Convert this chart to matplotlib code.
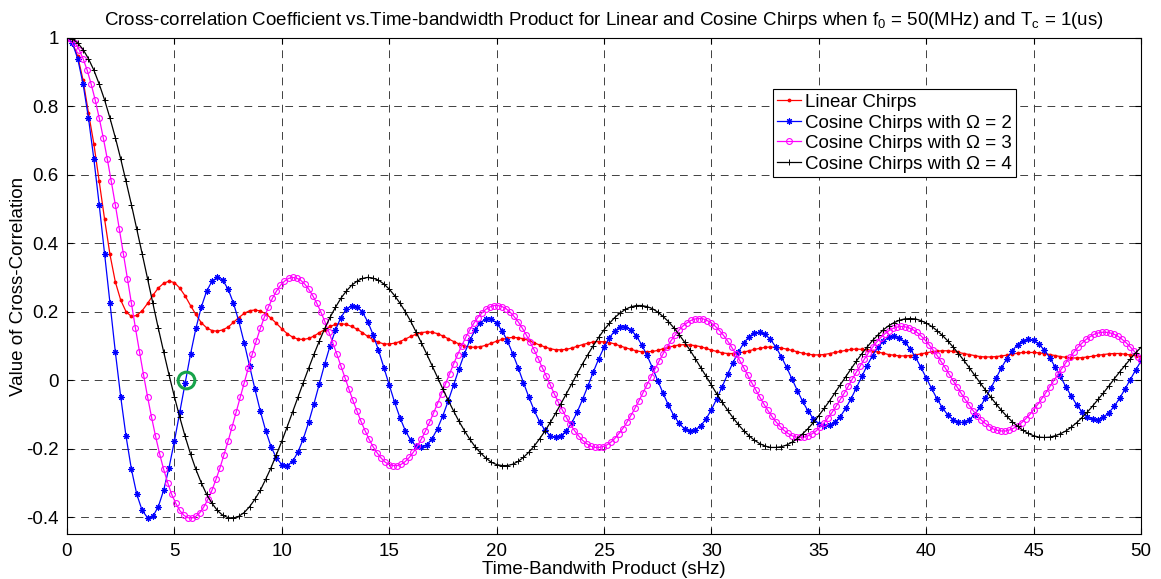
import numpy as np
import matplotlib
matplotlib.use("Agg")
import matplotlib.pyplot as plt

plt.rcParams['font.family'] = ['Liberation Sans', 'DejaVu Sans']
plt.rcParams['mathtext.default'] = 'regular'

# time-bandwidth product grids (sHz)
tb = np.linspace(0, 50, 201)
tb_omega3 = np.r_[np.arange(0, 49.9, 0.1875), 50.0]

linear_chirp = [
    1.000, 0.986, 0.945, 0.875, 0.780, 0.690, 0.580, 0.470,
    0.367, 0.287, 0.234, 0.200, 0.186, 0.189, 0.203, 0.224,
    0.248, 0.269, 0.283, 0.289, 0.285, 0.269, 0.246, 0.218,
    0.192, 0.168, 0.153, 0.145, 0.143, 0.147, 0.155, 0.169,
    0.183, 0.195, 0.203, 0.205, 0.202, 0.194, 0.181, 0.166,
    0.150, 0.136, 0.126, 0.120, 0.119, 0.122, 0.129, 0.139,
    0.148, 0.157, 0.163, 0.165, 0.163, 0.157, 0.149, 0.139,
    0.128, 0.118, 0.111, 0.106, 0.106, 0.108, 0.113, 0.120,
    0.128, 0.134, 0.139, 0.141, 0.140, 0.136, 0.129, 0.121,
    0.113, 0.106, 0.100, 0.097, 0.096, 0.098, 0.102, 0.108,
    0.114, 0.119, 0.123, 0.125, 0.124, 0.121, 0.116, 0.109,
    0.103, 0.097, 0.092, 0.089, 0.089, 0.090, 0.094, 0.099,
    0.104, 0.108, 0.112, 0.113, 0.112, 0.110, 0.106, 0.100,
    0.095, 0.090, 0.086, 0.083, 0.083, 0.084, 0.087, 0.092,
    0.096, 0.100, 0.103, 0.104, 0.103, 0.101, 0.098, 0.093,
    0.088, 0.084, 0.080, 0.078, 0.078, 0.080, 0.082, 0.086,
    0.090, 0.093, 0.096, 0.097, 0.096, 0.094, 0.091, 0.087,
    0.083, 0.079, 0.076, 0.074, 0.074, 0.075, 0.078, 0.081,
    0.084, 0.087, 0.090, 0.091, 0.090, 0.089, 0.086, 0.082,
    0.079, 0.075, 0.073, 0.071, 0.071, 0.072, 0.074, 0.077,
    0.080, 0.083, 0.085, 0.086, 0.086, 0.084, 0.081, 0.078,
    0.075, 0.072, 0.069, 0.068, 0.068, 0.069, 0.071, 0.073,
    0.076, 0.079, 0.081, 0.081, 0.081, 0.080, 0.078, 0.075,
    0.072, 0.069, 0.067, 0.065, 0.065, 0.066, 0.068, 0.070,
    0.073, 0.075, 0.077, 0.078, 0.078, 0.076, 0.074, 0.072,
    0.069,
]

cosine_omega2 = [
    1.000, 0.984, 0.938, 0.864, 0.765, 0.646, 0.512, 0.369,
    0.224, 0.083, -0.048, -0.164, -0.260, -0.333, -0.380, -0.401,
    -0.397, -0.369, -0.321, -0.255, -0.178, -0.093, -0.007, 0.076,
    0.151, 0.213, 0.260, 0.289, 0.300, 0.292, 0.266, 0.225,
    0.172, 0.109, 0.042, -0.026, -0.090, -0.147, -0.194, -0.227,
    -0.246, -0.249, -0.237, -0.210, -0.171, -0.123, -0.068, -0.010,
    0.048, 0.101, 0.147, 0.183, 0.207, 0.218, 0.215, 0.199,
    0.171, 0.133, 0.088, 0.037, -0.014, -0.064, -0.109, -0.147,
    -0.175, -0.192, -0.196, -0.189, -0.170, -0.141, -0.103, -0.060,
    -0.013, 0.033, 0.077, 0.116, 0.147, 0.168, 0.179, 0.179,
    0.167, 0.145, 0.115, 0.078, 0.037, -0.007, -0.049, -0.088,
    -0.121, -0.146, -0.162, -0.167, -0.162, -0.148, -0.124, -0.093,
    -0.056, -0.017, 0.024, 0.062, 0.096, 0.124, 0.144, 0.155,
    0.156, 0.147, 0.130, 0.104, 0.073, 0.037, -0.001, -0.038,
    -0.073, -0.103, -0.126, -0.142, -0.148, -0.145, -0.133, -0.113,
    -0.086, -0.054, -0.019, 0.017, 0.051, 0.082, 0.108, 0.127,
    0.138, 0.140, 0.134, 0.119, 0.097, 0.069, 0.038, 0.004,
    -0.030, -0.062, -0.090, -0.112, -0.127, -0.134, -0.132, -0.123,
    -0.106, -0.082, -0.054, -0.022, 0.011, 0.043, 0.072, 0.096,
    0.114, 0.125, 0.129, 0.124, 0.111, 0.092, 0.067, 0.038,
    0.007, -0.024, -0.054, -0.080, -0.101, -0.115, -0.123, -0.123,
    -0.115, -0.100, -0.079, -0.053, -0.024, 0.006, 0.036, 0.063,
    0.086, 0.104, 0.115, 0.119, 0.116, 0.105, 0.088, 0.066,
    0.039, 0.011, -0.019, -0.046, -0.071, -0.092, -0.106, -0.114,
    -0.115, -0.108, -0.095, -0.076, -0.053, -0.026, 0.002, 0.030,
    0.056,
]

cosine_omega3 = [
    1.000, 0.996, 0.984, 0.965, 0.938, 0.905, 0.864, 0.818,
    0.765, 0.708, 0.646, 0.580, 0.512, 0.441, 0.369, 0.296,
    0.224, 0.152, 0.083, 0.016, -0.048, -0.108, -0.164, -0.215,
    -0.260, -0.299, -0.333, -0.359, -0.380, -0.394, -0.401, -0.402,
    -0.397, -0.386, -0.369, -0.347, -0.321, -0.289, -0.255, -0.217,
    -0.178, -0.136, -0.093, -0.050, -0.007, 0.035, 0.076, 0.115,
    0.151, 0.184, 0.213, 0.239, 0.260, 0.277, 0.289, 0.297,
    0.300, 0.298, 0.292, 0.281, 0.266, 0.247, 0.225, 0.200,
    0.172, 0.141, 0.109, 0.076, 0.042, 0.008, -0.026, -0.059,
    -0.090, -0.120, -0.147, -0.172, -0.194, -0.212, -0.227, -0.239,
    -0.246, -0.249, -0.249, -0.245, -0.237, -0.225, -0.210, -0.192,
    -0.171, -0.148, -0.123, -0.096, -0.068, -0.039, -0.010, 0.019,
    0.048, 0.075, 0.101, 0.125, 0.147, 0.166, 0.183, 0.196,
    0.207, 0.214, 0.218, 0.218, 0.215, 0.209, 0.199, 0.186,
    0.171, 0.153, 0.133, 0.111, 0.088, 0.063, 0.037, 0.012,
    -0.014, -0.040, -0.064, -0.087, -0.109, -0.129, -0.147, -0.162,
    -0.175, -0.185, -0.192, -0.196, -0.196, -0.194, -0.189, -0.181,
    -0.170, -0.156, -0.141, -0.123, -0.103, -0.082, -0.060, -0.037,
    -0.013, 0.010, 0.033, 0.056, 0.077, 0.097, 0.116, 0.132,
    0.147, 0.159, 0.168, 0.175, 0.179, 0.180, 0.179, 0.174,
    0.167, 0.157, 0.145, 0.131, 0.115, 0.097, 0.078, 0.058,
    0.037, 0.015, -0.007, -0.028, -0.049, -0.069, -0.088, -0.105,
    -0.121, -0.134, -0.146, -0.155, -0.162, -0.166, -0.167, -0.166,
    -0.162, -0.156, -0.148, -0.137, -0.124, -0.109, -0.093, -0.075,
    -0.056, -0.037, -0.017, 0.004, 0.024, 0.043, 0.062, 0.080,
    0.096, 0.111, 0.124, 0.135, 0.144, 0.151, 0.155, 0.157,
    0.156, 0.153, 0.148, 0.140, 0.130, 0.118, 0.104, 0.089,
    0.073, 0.055, 0.037, 0.018, -0.001, -0.020, -0.038, -0.056,
    -0.073, -0.089, -0.103, -0.116, -0.126, -0.135, -0.142, -0.146,
    -0.148, -0.148, -0.145, -0.140, -0.133, -0.124, -0.113, -0.101,
    -0.086, -0.071, -0.054, -0.037, -0.019, -0.001, 0.017, 0.034,
    0.051, 0.067, 0.082, 0.096, 0.108, 0.119, 0.127, 0.134,
    0.138, 0.140, 0.140, 0.138, 0.134, 0.128, 0.119, 0.109,
    0.097, 0.084, 0.069, 0.059,
]

cosine_omega4 = [
    1.000, 0.996, 0.984, 0.965, 0.938, 0.905, 0.864, 0.818,
    0.765, 0.708, 0.646, 0.580, 0.512, 0.441, 0.369, 0.296,
    0.224, 0.152, 0.083, 0.016, -0.048, -0.108, -0.164, -0.215,
    -0.260, -0.299, -0.333, -0.359, -0.380, -0.394, -0.401, -0.402,
    -0.397, -0.386, -0.369, -0.347, -0.321, -0.289, -0.255, -0.217,
    -0.178, -0.136, -0.093, -0.050, -0.007, 0.035, 0.076, 0.115,
    0.151, 0.184, 0.213, 0.239, 0.260, 0.277, 0.289, 0.297,
    0.300, 0.298, 0.292, 0.281, 0.266, 0.247, 0.225, 0.200,
    0.172, 0.141, 0.109, 0.076, 0.042, 0.008, -0.026, -0.059,
    -0.090, -0.120, -0.147, -0.172, -0.194, -0.212, -0.227, -0.239,
    -0.246, -0.249, -0.249, -0.245, -0.237, -0.225, -0.210, -0.192,
    -0.171, -0.148, -0.123, -0.096, -0.068, -0.039, -0.010, 0.019,
    0.048, 0.075, 0.101, 0.125, 0.147, 0.166, 0.183, 0.196,
    0.207, 0.214, 0.218, 0.218, 0.215, 0.209, 0.199, 0.186,
    0.171, 0.153, 0.133, 0.111, 0.088, 0.063, 0.037, 0.012,
    -0.014, -0.040, -0.064, -0.087, -0.109, -0.129, -0.147, -0.162,
    -0.175, -0.185, -0.192, -0.196, -0.196, -0.194, -0.189, -0.181,
    -0.170, -0.156, -0.141, -0.123, -0.103, -0.082, -0.060, -0.037,
    -0.013, 0.010, 0.033, 0.056, 0.077, 0.097, 0.116, 0.132,
    0.147, 0.159, 0.168, 0.175, 0.179, 0.180, 0.179, 0.174,
    0.167, 0.157, 0.145, 0.131, 0.115, 0.097, 0.078, 0.058,
    0.037, 0.015, -0.007, -0.028, -0.049, -0.069, -0.088, -0.105,
    -0.121, -0.134, -0.146, -0.155, -0.162, -0.166, -0.167, -0.166,
    -0.162, -0.156, -0.148, -0.137, -0.124, -0.109, -0.093, -0.075,
    -0.056, -0.037, -0.017, 0.004, 0.024, 0.043, 0.062, 0.080,
    0.096,
]

# first zero crossing of the Omega = 2 curve
zero_tb = [5.52]
zero_val = [0.0]

series_labels = [
    'Linear Chirps',
    'Cosine Chirps with \u03a9 = 2',
    'Cosine Chirps with \u03a9 = 3',
    'Cosine Chirps with \u03a9 = 4',
]
x_ticks = np.arange(0, 51, 5)
y_ticks = [-0.4, -0.2, 0, 0.2, 0.4, 0.6, 0.8, 1]
y_tick_labels = ['-0.4', '-0.2', '0', '0.2', '0.4', '0.6', '0.8', '1']

fig = plt.figure(figsize=(11.61, 5.79), dpi=100)
ax = fig.add_axes([0.0577, 0.0769, 0.9251, 0.8583])

ax.plot(tb, linear_chirp, color='#ff0000', lw=0.9, marker='.', ms=3.5,
        label=series_labels[0])
ax.plot(tb, cosine_omega2, color='#0000ff', lw=0.9, marker=(8, 2, 0), ms=4.5,
        mew=0.8, label=series_labels[1])
ax.plot(tb_omega3, cosine_omega3, color='#ff00ff', lw=0.9, marker='o', ms=4.2,
        mfc='none', mew=0.8, label=series_labels[2])
ax.plot(tb, cosine_omega4, color='k', lw=0.9, marker='+', ms=5,
        mew=0.7, label=series_labels[3])
ax.plot(zero_tb, zero_val, 'o', mfc='none', mec='#17a34a', ms=12, mew=2.2)

ax.set_xlim(0, 50)
ax.set_ylim(-0.45, 1)
ax.set_xticks(x_ticks)
ax.set_yticks(y_ticks)
ax.set_yticklabels(y_tick_labels)
ax.tick_params(direction='in', length=4, width=0.8, top=True, right=True,
               labelsize=13.5, pad=6)
for sp in ax.spines.values():
    sp.set_linewidth(0.8)
ax.grid(True, color='0.25', lw=0.7, linestyle=(0, (8, 6)))

ax.set_title('Cross-correlation Coefficient vs.Time-bandwidth Product for Linear and '
             'Cosine Chirps when f$_0$ = 50(MHz) and T$_c$ = 1(us)',
             fontsize=13.5, pad=9)
ax.set_xlabel('Time-Bandwith Product (sHz)', fontsize=13.5, labelpad=1)
ax.set_ylabel('Value of Cross-Correlation', fontsize=13.5, labelpad=-1)

leg = ax.legend(loc='upper left', bbox_to_anchor=(0.657, 0.896),
                borderaxespad=0, fancybox=False, edgecolor='k', framealpha=1,
                fontsize=13.5, handlelength=1.25, handletextpad=0.2,
                labelspacing=0.18, borderpad=0.25, numpoints=1)
leg.get_frame().set_linewidth(0.8)

fig.savefig('out.png', dpi=100)
